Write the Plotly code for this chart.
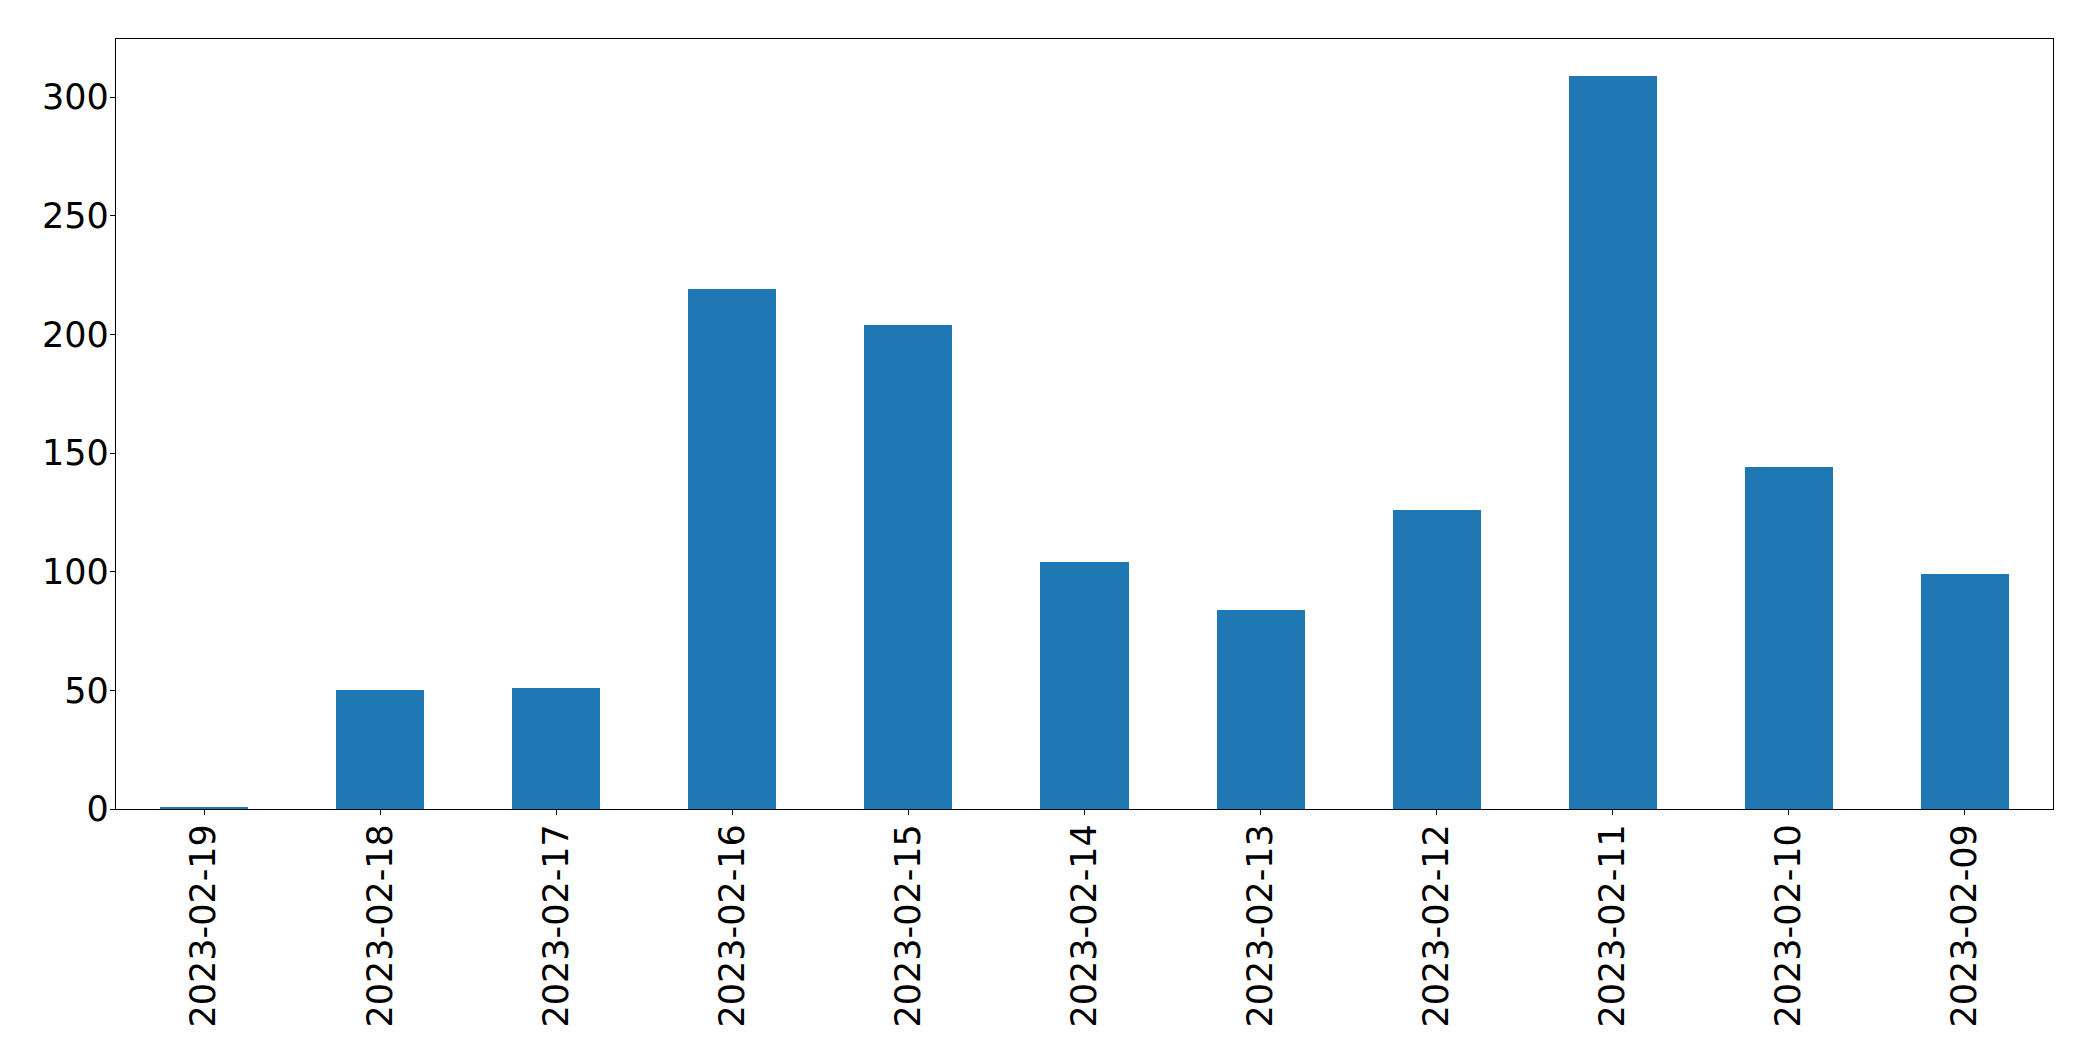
import plotly.graph_objects as go

dates = ["2023-02-19", "2023-02-18", "2023-02-17", "2023-02-16", "2023-02-15",
         "2023-02-14", "2023-02-13", "2023-02-12", "2023-02-11", "2023-02-10",
         "2023-02-09"]
counts = [1, 50, 51, 219, 204, 104, 84, 126, 309, 144, 99]
y_ticks = [0, 50, 100, 150, 200, 250, 300]

fig = go.Figure()
fig.add_trace(go.Bar(x=dates, y=counts, width=0.5, marker=dict(color="#1f77b4", line=dict(width=0))))

axis_common = dict(
    showline=True, linecolor="black", linewidth=1.3, mirror=True,
    ticks="outside", ticklen=5, tickwidth=1.3, tickcolor="black",
    showgrid=False, zeroline=False,
    tickfont=dict(family="DejaVu Sans", size=35, color="black"),
)

fig.update_layout(
    width=2077, height=1045,
    margin=dict(l=108, r=32, t=31, b=244),
    paper_bgcolor="white", plot_bgcolor="white",
    showlegend=False,
    bargap=0,
)
fig.update_xaxes(type="category", range=[-0.5, len(dates) - 0.5], tickangle=-90,
                 ticklabelstandoff=-5, **axis_common)
fig.update_yaxes(range=[0, max(counts) * 1.05], tickvals=y_ticks, ticklabelstandoff=-6, **axis_common)

fig.write_html("out.html")
